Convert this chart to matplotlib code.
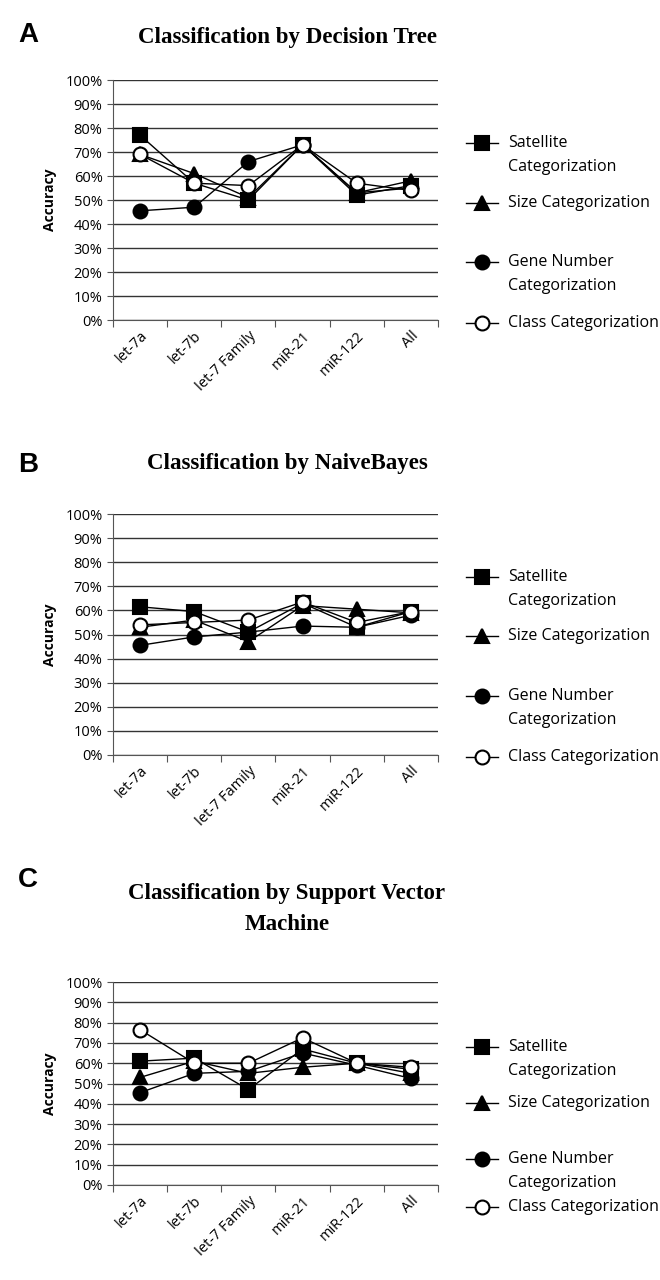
import matplotlib
matplotlib.use("Agg")
import matplotlib.pyplot as plt
from matplotlib.lines import Line2D
from matplotlib.ticker import MultipleLocator, FuncFormatter

# Data (accuracy in %)
categories = ["let-7a", "let-7b", "let-7 Family", "miR-21", "miR-122", "All"]

dt_satellite = [77, 57, 50, 73, 52, 56]
dt_size = [69, 61, 51, 73, 53, 58]
dt_gene = [45.5, 47, 66, 73, 53, 55]
dt_class = [69, 57, 56, 73, 57, 54]

nb_satellite = [61.5, 59.5, 51, 63, 53, 59.5]
nb_size = [53, 56, 47, 62, 60.5, 59]
nb_gene = [45.5, 49, 51, 53.5, 53, 58]
nb_class = [54, 55, 56, 63.5, 55, 59.5]

svm_satellite = [61, 62.5, 47, 67, 60, 57]
svm_size = [53, 61, 55, 58, 60, 55]
svm_gene = [45.5, 55, 56, 65, 59, 52.5]
svm_class = [76.5, 60, 60, 72.5, 60, 58]

series_names = ["Satellite\nCategorization", "Size Categorization",
                "Gene Number\nCategorization", "Class Categorization"]
styles = [dict(marker="s", mfc="black"), dict(marker="^", mfc="black"),
          dict(marker="o", mfc="black"), dict(marker="o", mfc="white")]

W, H = 660, 1280
fig = plt.figure(figsize=(W / 100, H / 100), dpi=100)

tick_font = "Open Sans"


def px_axes(x0, y0, x1, y1):
    return fig.add_axes([x0 / W, 1 - y1 / H, (x1 - x0) / W, (y1 - y0) / H])


panels = [
    dict(letter="A", title="Classification by Decision Tree", title_y=37,
         letter_y=35, box=(113, 80, 438, 320),
         data=[dt_satellite, dt_size, dt_gene, dt_class],
         leg=[(143, 167), 203, (262, 286), 323]),
    dict(letter="B", title="Classification by NaiveBayes", title_y=463,
         letter_y=465, box=(113, 514, 438, 755),
         data=[nb_satellite, nb_size, nb_gene, nb_class],
         leg=[(577, 601), 636, (696, 720), 757]),
    dict(letter="C", title="Classification by Support Vector\nMachine",
         title_y=909, letter_y=880, box=(113, 982, 438, 1185),
         data=[svm_satellite, svm_size, svm_gene, svm_class],
         leg=[(1047, 1071), 1103, (1159, 1183), 1207]),
]

for p in panels:
    x0, y0, x1, y1 = p["box"]
    ax = px_axes(x0, y0, x1, y1)
    xs = list(range(len(categories)))
    for vals, st in zip(p["data"], styles):
        ax.plot(xs, vals, color="black", lw=1.0, marker=st["marker"],
                mfc=st["mfc"], mec="black", mew=1.5, markersize=10,
                zorder=3)
    ax.set_xlim(-0.5, len(categories) - 0.5)
    ax.set_ylim(0, 100)
    ax.yaxis.set_major_locator(MultipleLocator(10))
    ax.yaxis.set_major_formatter(FuncFormatter(lambda v, _: f"{int(round(v))}%"))
    ax.grid(axis="y", color="#333333", lw=1.0)
    ax.set_axisbelow(True)
    for s in ["top", "right"]:
        ax.spines[s].set_visible(False)
    ax.spines["left"].set_color("#555555")
    ax.spines["bottom"].set_color("#555555")
    ax.set_xticks([i - 0.5 for i in range(len(categories) + 1)], minor=False)
    ax.set_xticklabels([])
    ax.set_xticks(xs, minor=True)
    ax.set_xticklabels(categories, minor=True, rotation=45, ha="right",
                       rotation_mode="anchor", fontsize=10.5, family=tick_font)
    ax.tick_params(axis="x", which="minor", length=0, pad=6)
    ax.tick_params(axis="x", which="major", length=5, direction="out",
                   color="#555555")
    ax.tick_params(axis="y", length=4, labelsize=10.5, color="#555555")
    for lab in ax.get_yticklabels():
        lab.set_family(tick_font)
    ax.set_ylabel("Accuracy", fontsize=10, fontweight="bold",
                  family=tick_font, labelpad=6)

    fig.text(18 / W, 1 - p["letter_y"] / H, p["letter"], fontsize=20,
             fontweight="bold", family="Liberation Sans", va="center")
    fig.text(287 / W, 1 - p["title_y"] / H, p["title"], fontsize=16.5,
             fontweight="bold", family="Liberation Serif", ha="center",
             va="center", linespacing=1.65)

    # legend drawn by hand to follow the original spacing
    for name, st, ly in zip(series_names, styles, p["leg"]):
        y_mark = ly[0] if isinstance(ly, tuple) else ly
        fig.add_artist(Line2D([466 / W, 498 / W], [1 - y_mark / H] * 2,
                              color="black", lw=1.0, marker=None))
        fig.add_artist(Line2D([482 / W], [1 - y_mark / H], color="black",
                              marker=st["marker"], mfc=st["mfc"], mec="black",
                              mew=1.5, markersize=10))
        lines = name.split("\n")
        ys = ly if isinstance(ly, tuple) else (ly,)
        for txt, ty in zip(lines, ys):
            fig.text(508 / W, 1 - ty / H, txt, fontsize=11.5,
                     family=tick_font, va="center")

fig.savefig("out.png", dpi=100)
